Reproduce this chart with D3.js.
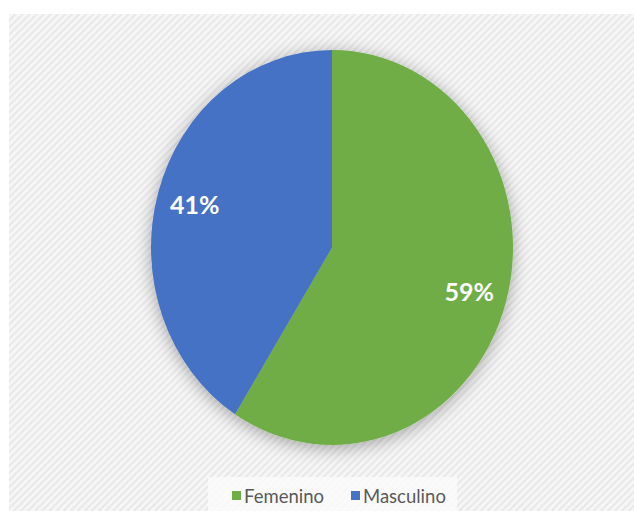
<!DOCTYPE html>
<html>
<head>
<meta charset="utf-8">
<script src="https://cdn.jsdelivr.net/npm/d3@7"></script>
<style>
  html, body { margin: 0; padding: 0; background: #ffffff; }
  svg { display: block; }
</style>
</head>
<body>
<svg id="chart" width="634" height="511"></svg>
<script>
// Gender distribution
const categories = ["Femenino", "Masculino"];
const values = [59, 41];
const colors = ["#70AD47", "#4472C4"];
const labels = ["59%", "41%"];

const svg = d3.select("#chart");
const W = 634, H = 511;

const defs = svg.append("defs");

// Diagonal striped texture for the chart area
const pat = defs.append("pattern")
  .attr("id", "stripes")
  .attr("patternUnits", "userSpaceOnUse")
  .attr("width", 5).attr("height", 5)
  .attr("patternTransform", "rotate(45)");
pat.append("rect").attr("width", 5).attr("height", 5).attr("fill", "#f6f6f6");
pat.append("rect").attr("width", 2).attr("height", 5).attr("fill", "#e8e8e8");

// Soft shadow behind the pie
const shadow = defs.append("filter")
  .attr("id", "pieShadow")
  .attr("x", "-20%").attr("y", "-20%").attr("width", "140%").attr("height", "140%");
shadow.append("feGaussianBlur").attr("in", "SourceAlpha").attr("stdDeviation", 9).attr("result", "blur");
shadow.append("feOffset").attr("in", "blur").attr("dx", 0).attr("dy", 3).attr("result", "off");
shadow.append("feComponentTransfer").attr("in", "off").attr("result", "soft")
  .append("feFuncA").attr("type", "linear").attr("slope", 0.34);
const merge = shadow.append("feMerge");
merge.append("feMergeNode").attr("in", "soft");
merge.append("feMergeNode").attr("in", "SourceGraphic");

// Chart area background
svg.append("rect")
  .attr("x", 9).attr("y", 14)
  .attr("width", W - 9).attr("height", H - 14)
  .attr("fill", "url(#stripes)");

// Pie geometry (slightly stretched vertically)
const cx = 332, cy = 247.5;
const rx = 181, ry = 197.5;

const pie = d3.pie().sort(null).value(d => d.value);
const arcs = pie(categories.map((c, i) => ({ name: c, value: values[i], color: colors[i], label: labels[i] })));

const arc = d3.arc().innerRadius(0).outerRadius(ry);

const pieG = svg.append("g")
  .attr("transform", `translate(${cx},${cy}) scale(${rx / ry},1)`)
  .attr("filter", "url(#pieShadow)");

pieG.selectAll("path")
  .data(arcs)
  .join("path")
  .attr("d", arc)
  .attr("fill", d => d.data.color);

// Value labels
const labelArc = d3.arc().innerRadius(ry * 0.79).outerRadius(ry * 0.79);
svg.append("g")
  .selectAll("text")
  .data(arcs)
  .join("text")
  .attr("x", d => cx + labelArc.centroid(d)[0] * rx / ry)
  .attr("y", d => cy + labelArc.centroid(d)[1])
  .attr("text-anchor", "middle")
  .attr("dominant-baseline", "central")
  .attr("font-family", "Lato, 'Open Sans', sans-serif")
  .attr("font-weight", "bold")
  .attr("font-size", 25)
  .attr("fill", "#ffffff")
  .text(d => d.data.label);

// Legend
const legendG = svg.append("g");
legendG.append("rect")
  .attr("x", 208).attr("y", 477)
  .attr("width", 249).attr("height", 34)
  .attr("fill", "#fafafa")
  .attr("opacity", 0.85);

const legendX = d3.scaleOrdinal().domain(categories).range([232, 351]);
const items = legendG.selectAll("g.item")
  .data(categories)
  .join("g")
  .attr("class", "item")
  .attr("transform", d => `translate(${legendX(d)},0)`);
items.append("rect")
  .attr("x", 0).attr("y", 491)
  .attr("width", 9).attr("height", 9)
  .attr("fill", (d, i) => colors[i]);
items.append("text")
  .attr("x", 12).attr("y", 503)
  .attr("font-family", "Lato, 'Open Sans', sans-serif")
  .attr("font-size", 18.5)
  .attr("fill", "#595959")
  .text(d => d);
</script>
</body>
</html>
